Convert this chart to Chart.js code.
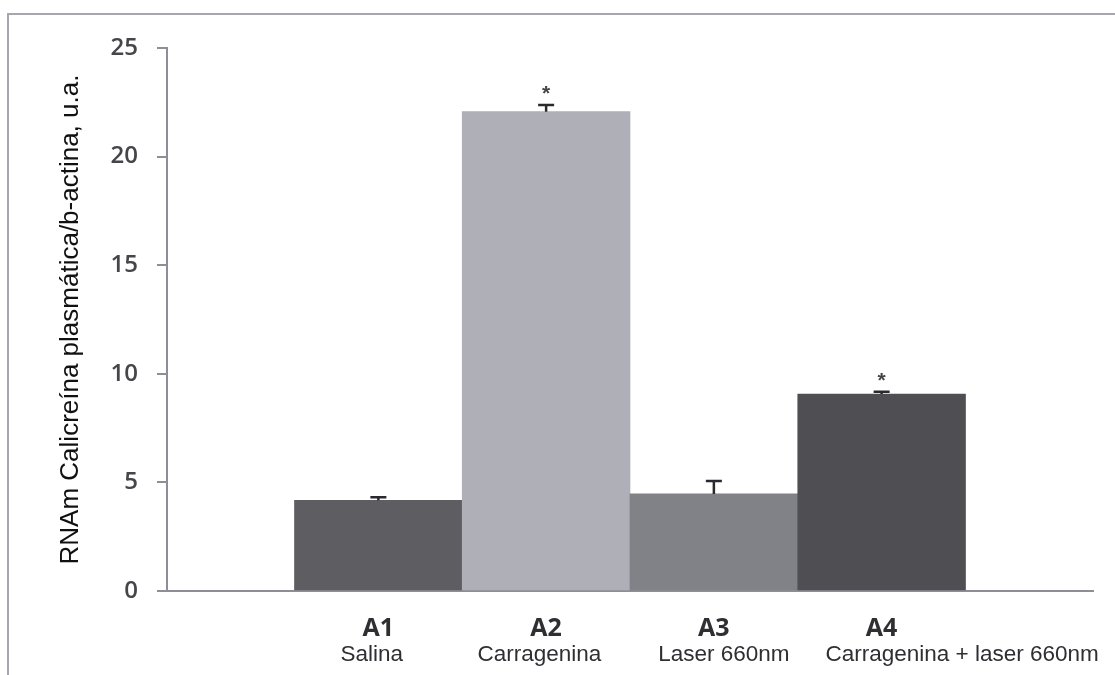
<!DOCTYPE html>
<html>
<head>
<meta charset="utf-8">
<script src="https://cdn.jsdelivr.net/npm/chart.js@4.4.1/dist/chart.umd.min.js"></script>
<style>
  html, body { margin: 0; padding: 0; background: #ffffff; }
  #wrap { position: relative; width: 1115px; height: 675px; overflow: hidden; }
  #frame {
    position: absolute; left: 7px; top: 13px; right: -4px; bottom: -4px;
    border-top: 2px solid #a6a6ae; border-left: 2px solid #a6a6ae;
  }
  #chart { position: absolute; left: 0; top: 0; }
</style>
</head>
<body>
<div id="wrap">
  <div id="frame"></div>
  <canvas id="chart" width="1115" height="675"></canvas>
</div>
<script>
// Groups, their descriptions and measured values (mean and upper error)
const groupCodes = ['A1', 'A2', 'A3', 'A4'];
const groupNames = ['Salina', 'Carragenina', 'Laser 660nm', 'Carragenina + laser 660nm'];
const groupPositions = [1, 2, 3, 4];
const meanValues = [4.18, 22.07, 4.47, 9.07];
const errorValues = [0.14, 0.30, 0.60, 0.10];
const significant = [false, true, false, true];
const barColors = ['#5e5d62', '#aeafb7', '#818287', '#4f4e53'];
const yTicks = [0, 5, 10, 15, 20, 25];

// Where each description line is anchored along the x scale
const nameAnchors = [0.96, 1.96, 3.06, 4.48];

const axisGray = '#8e8e96';

// Condensed face for the descriptions when it is available
function hasFont(family) {
  const c = document.createElement('canvas').getContext('2d');
  c.font = '30px monospace';
  const a = c.measureText('Carragenina + laser').width;
  c.font = '30px "' + family + '", monospace';
  const b = c.measureText('Carragenina + laser').width;
  return Math.abs(a - b) > 0.5;
}
const narrow = hasFont('Liberation Sans Narrow');
const nameFont = narrow
  ? { family: '"Liberation Sans Narrow", "Liberation Sans", sans-serif', size: 27 }
  : { family: '"Liberation Sans", Arial, sans-serif', size: 22.5 };

// Upper error whiskers and significance stars on top of each bar
const errorBarPlugin = {
  id: 'errorBars',
  afterDatasetsDraw(chart) {
    const ctx = chart.ctx;
    const xs = chart.scales.x;
    const ys = chart.scales.y;
    ctx.save();
    groupPositions.forEach((p, i) => {
      const x = xs.getPixelForValue(p);
      const yTop = ys.getPixelForValue(meanValues[i]);
      const yCap = ys.getPixelForValue(meanValues[i] + errorValues[i]);
      ctx.strokeStyle = '#2a2a2e';
      ctx.lineWidth = 2.5;
      ctx.beginPath();
      ctx.moveTo(x, yTop);
      ctx.lineTo(x, yCap);
      ctx.moveTo(x - 8, yCap);
      ctx.lineTo(x + 8, yCap);
      ctx.stroke();
      if (significant[i]) {
        ctx.fillStyle = '#444448';
        ctx.font = 'bold 21px "Liberation Sans", Arial, sans-serif';
        ctx.textAlign = 'center';
        ctx.textBaseline = 'alphabetic';
        ctx.fillText('*', x, yCap - 5);
      }
    });
    ctx.restore();
  }
};

new Chart(document.getElementById('chart'), {
  type: 'bar',
  data: {
    datasets: [{
      data: groupPositions.map((p, i) => ({ x: p, y: meanValues[i] })),
      backgroundColor: barColors,
      borderWidth: 0,
      categoryPercentage: 1.0,
      barPercentage: 1.0
    }]
  },
  options: {
    responsive: false,
    animation: false,
    devicePixelRatio: 1,
    layout: { padding: { top: 48, right: 22, left: 0, bottom: 0 } },
    plugins: { legend: { display: false }, tooltip: { enabled: false } },
    scales: {
      x: {
        type: 'linear',
        position: 'bottom',
        offset: false,
        weight: 0,
        min: -0.26,
        max: 5.26,
        afterBuildTicks: (s) => { s.ticks = groupPositions.map(v => ({ value: v })); },
        afterFit: (s) => { s.height = 50; },
        grid: { display: false, drawTicks: false },
        border: { display: true, color: axisGray, width: 2 },
        ticks: {
          autoSkip: false, maxRotation: 0, padding: 23,
          color: '#2f2f33',
          font: { family: '"Open Sans", sans-serif', size: 25, weight: 'bold' },
          callback: (v) => groupCodes[groupPositions.indexOf(v)]
        }
      },
      x2: {
        type: 'linear',
        position: 'bottom',
        axis: 'x',
        offset: false,
        weight: 1,
        min: -0.26,
        max: 5.26,
        afterBuildTicks: (s) => { s.ticks = nameAnchors.map(v => ({ value: v })); },
        afterFit: (s) => { s.height = 34; },
        grid: { display: false, drawTicks: false },
        border: { display: false },
        ticks: {
          autoSkip: false, maxRotation: 0, padding: 0,
          color: '#2f2f33',
          font: nameFont,
          callback: (v) => groupNames[nameAnchors.indexOf(v)]
        }
      },
      y: {
        min: 0,
        max: 25,
        afterBuildTicks: (s) => { s.ticks = yTicks.map(v => ({ value: v })); },
        afterFit: (s) => { s.width = 167; },
        grid: {
          drawOnChartArea: false, drawTicks: true, tickLength: 10,
          color: axisGray, lineWidth: 2
        },
        border: { display: true, color: axisGray, width: 2 },
        ticks: {
          padding: 19,
          color: '#45454a',
          font: { family: '"Open Sans", sans-serif', size: 24, weight: '600' }
        },
        title: {
          display: true,
          text: 'RNAm Calicreína plasmática/b-actina, u.a.',
          color: '#111111',
          font: { family: '"Liberation Sans", Arial, sans-serif', size: 26 },
          padding: { top: 55, bottom: 0 }
        }
      }
    }
  },
  plugins: [errorBarPlugin]
});
</script>
</body>
</html>
